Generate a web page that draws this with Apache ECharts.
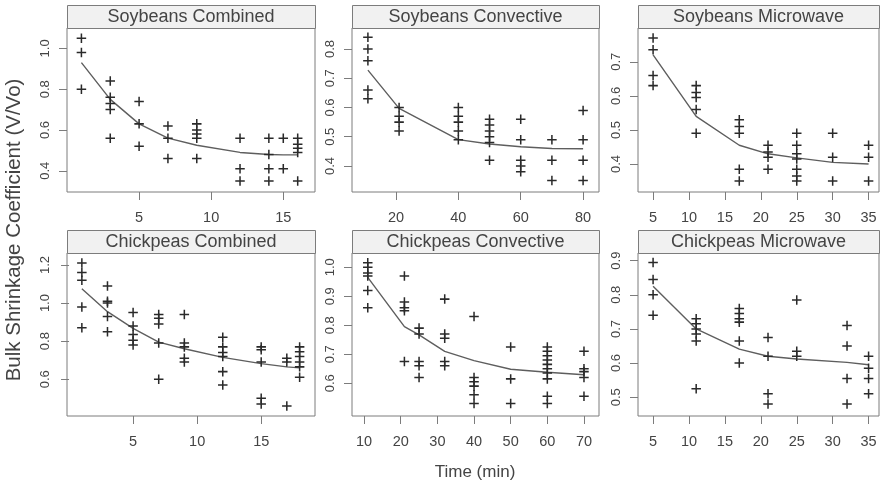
<!DOCTYPE html>
<html>
<head>
<meta charset="utf-8">
<script src="https://cdn.jsdelivr.net/npm/echarts@6/dist/echarts.min.js"></script>
<style>
  html, body { margin: 0; padding: 0; background: #fff; }
  #chart { width: 881px; height: 487px; }
</style>
</head>
<body>
<div id="chart"></div>
<script>
// Bulk shrinkage coefficient (V/Vo) against drying time, one panel per product and drying method.
// Each point list holds [time (min), coefficient]; each fit list holds the fitted curve at the measured times.

const panelTitles = [
  'Soybeans Combined', 'Soybeans Convective', 'Soybeans Microwave',
  'Chickpeas Combined', 'Chickpeas Convective', 'Chickpeas Microwave'
];

const soyCombinedPts = [
  [1, 1.05], [1, 0.98], [1, 0.80],
  [3, 0.84], [3, 0.76], [3, 0.73], [3, 0.70], [3, 0.56],
  [5, 0.74], [5, 0.63], [5, 0.52],
  [7, 0.62], [7, 0.56], [7, 0.46],
  [9, 0.63], [9, 0.60], [9, 0.58], [9, 0.56], [9, 0.46],
  [12, 0.56], [12, 0.41], [12, 0.35],
  [14, 0.56], [14, 0.48], [14, 0.41], [14, 0.35],
  [15, 0.56], [15, 0.41],
  [16, 0.56], [16, 0.53], [16, 0.51], [16, 0.49], [16, 0.35]
];
const soyCombinedFit = [[1, 0.93], [3, 0.75], [5, 0.63], [7, 0.56], [9, 0.525], [12, 0.49], [14, 0.48], [15, 0.478], [16, 0.478]];

const soyConvectivePts = [
  [11, 0.84], [11, 0.80], [11, 0.76], [11, 0.66], [11, 0.63],
  [21, 0.60], [21, 0.57], [21, 0.55], [21, 0.52],
  [40, 0.60], [40, 0.57], [40, 0.55], [40, 0.52], [40, 0.49],
  [50, 0.56], [50, 0.54], [50, 0.52], [50, 0.50], [50, 0.48], [50, 0.42],
  [60, 0.56], [60, 0.49], [60, 0.42], [60, 0.40], [60, 0.38],
  [70, 0.49], [70, 0.42], [70, 0.35],
  [80, 0.59], [80, 0.49], [80, 0.42], [80, 0.35]
];
const soyConvectiveFit = [[11, 0.728], [21, 0.597], [40, 0.49], [50, 0.475], [60, 0.466], [70, 0.46], [80, 0.459]];

const soyMicrowavePts = [
  [5, 0.77], [5, 0.735], [5, 0.66], [5, 0.63],
  [11, 0.63], [11, 0.61], [11, 0.595], [11, 0.56], [11, 0.49],
  [17, 0.53], [17, 0.51], [17, 0.49], [17, 0.385], [17, 0.35],
  [21, 0.455], [21, 0.435], [21, 0.42], [21, 0.385],
  [25, 0.49], [25, 0.455], [25, 0.43], [25, 0.415], [25, 0.385], [25, 0.365], [25, 0.35],
  [30, 0.49], [30, 0.42], [30, 0.35],
  [35, 0.455], [35, 0.42], [35, 0.35]
];
const soyMicrowaveFit = [[5, 0.72], [11, 0.54], [17, 0.455], [21, 0.43], [25, 0.418], [30, 0.405], [35, 0.40]];

const chickCombinedPts = [
  [1, 1.21], [1, 1.16], [1, 1.12], [1, 0.98], [1, 0.87],
  [3, 1.09], [3, 1.01], [3, 1.00], [3, 0.93], [3, 0.85],
  [5, 0.95], [5, 0.88], [5, 0.835], [5, 0.805], [5, 0.78],
  [7, 0.94], [7, 0.92], [7, 0.89], [7, 0.79], [7, 0.60],
  [9, 0.94], [9, 0.79], [9, 0.77], [9, 0.71], [9, 0.69],
  [12, 0.82], [12, 0.77], [12, 0.74], [12, 0.72], [12, 0.64], [12, 0.57],
  [15, 0.77], [15, 0.755], [15, 0.69], [15, 0.50], [15, 0.47],
  [17, 0.71], [17, 0.69], [17, 0.46],
  [18, 0.77], [18, 0.745], [18, 0.72], [18, 0.69], [18, 0.665], [18, 0.61]
];
const chickCombinedFit = [[1, 1.075], [3, 0.955], [5, 0.867], [7, 0.795], [9, 0.76], [12, 0.715], [15, 0.682], [17, 0.665], [18, 0.66]];

const chickConvectivePts = [
  [11, 1.015], [11, 1.0], [11, 0.98], [11, 0.97], [11, 0.92], [11, 0.86],
  [21, 0.97], [21, 0.88], [21, 0.86], [21, 0.85], [21, 0.675],
  [25, 0.79], [25, 0.77], [25, 0.675], [25, 0.66], [25, 0.62],
  [32, 0.89], [32, 0.77], [32, 0.755], [32, 0.675], [32, 0.66],
  [40, 0.83], [40, 0.62], [40, 0.605], [40, 0.59], [40, 0.56], [40, 0.53],
  [50, 0.725], [50, 0.615], [50, 0.53],
  [60, 0.725], [60, 0.71], [60, 0.695], [60, 0.68], [60, 0.665], [60, 0.65], [60, 0.635], [60, 0.615], [60, 0.555], [60, 0.53],
  [70, 0.71], [70, 0.65], [70, 0.64], [70, 0.62], [70, 0.555]
];
const chickConvectiveFit = [[11, 0.965], [21, 0.795], [25, 0.767], [32, 0.71], [40, 0.678], [50, 0.648], [60, 0.638], [70, 0.629]];

const chickMicrowavePts = [
  [5, 0.895], [5, 0.845], [5, 0.80], [5, 0.74],
  [11, 0.73], [11, 0.715], [11, 0.70], [11, 0.685], [11, 0.665], [11, 0.525],
  [17, 0.76], [17, 0.745], [17, 0.73], [17, 0.72], [17, 0.665], [17, 0.60],
  [21, 0.675], [21, 0.62], [21, 0.51], [21, 0.48],
  [25, 0.785], [25, 0.635], [25, 0.62],
  [32, 0.71], [32, 0.65], [32, 0.555], [32, 0.48],
  [35, 0.62], [35, 0.585], [35, 0.555], [35, 0.51]
];
const chickMicrowaveFit = [[5, 0.825], [11, 0.70], [17, 0.641], [21, 0.62], [25, 0.612], [32, 0.602], [35, 0.595]];

// Tick values per panel
const xTicks = [
  [5, 10, 15], [20, 40, 60, 80], [5, 10, 15, 20, 25, 30, 35],
  [5, 10, 15], [10, 20, 30, 40, 50, 60, 70], [5, 10, 15, 20, 25, 30, 35]
];
const yTicks = [
  [0.4, 0.6, 0.8, 1.0], [0.4, 0.5, 0.6, 0.7, 0.8], [0.4, 0.5, 0.6, 0.7],
  [0.6, 0.8, 1.0, 1.2], [0.6, 0.7, 0.8, 0.9, 1.0], [0.5, 0.6, 0.7, 0.8, 0.9]
];

const axisTitleX = 'Time (min)';
const axisTitleY = 'Bulk Shrinkage Coefficient (V/Vo)';

const pointSets = [soyCombinedPts, soyConvectivePts, soyMicrowavePts, chickCombinedPts, chickConvectivePts, chickMicrowavePts];
const fitSets = [soyCombinedFit, soyConvectiveFit, soyMicrowaveFit, chickCombinedFit, chickConvectiveFit, chickMicrowaveFit];

// Panel axis extents
const xRanges = [[0, 17.2], [5.9, 85.1], [2.9, 36.45], [-0.16, 19.2], [6.7, 74.1], [2.9, 36.45]];
const yRanges = [[0.296, 1.1], [0.311, 0.872], [0.318, 0.799], [0.407, 1.263], [0.487, 1.049], [0.445, 0.9225]];

// Layout
const colLeft = [67, 352, 638];
const colWidth = [248, 247, 241];
const rowTop = [28, 253];
const rowHeight = [164, 163];
const stripH = 23;
const FONT = 'Liberation Sans, Arial, Helvetica, sans-serif';
const TEXT = '#444';
const FRAME = '#7c7c7c';
const PLUS = 'path://M0,4.2H10V5.8H0Z M4.2,0H5.8V10H4.2Z';

const grids = [], xAxes = [], yAxes = [], series = [], graphics = [];

for (let i = 0; i < 6; i++) {
  const r = Math.floor(i / 3), c = i % 3;
  const left = colLeft[c], top = rowTop[r], w = colWidth[c], h = rowHeight[r];
  grids.push({
    left: left, top: top, width: w, height: h,
    show: true, borderColor: FRAME, borderWidth: 1, backgroundColor: 'transparent',
    containLabel: false, outerBoundsMode: 'none'
  });
  xAxes.push({
    type: 'value', gridIndex: i, min: xRanges[i][0], max: xRanges[i][1],
    axisLine: { show: false },
    splitLine: { show: false },
    axisTick: { show: true, length: 8, inside: false, customValues: xTicks[i], lineStyle: { color: FRAME, width: 1 } },
    axisLabel: { show: true, customValues: xTicks[i], margin: 18, color: TEXT, fontFamily: FONT, fontSize: 14.5,
      formatter: v => String(v) }
  });
  yAxes.push({
    type: 'value', gridIndex: i, min: yRanges[i][0], max: yRanges[i][1],
    axisLine: { show: false },
    splitLine: { show: false },
    axisTick: { show: true, length: 8, inside: false, customValues: yTicks[i], lineStyle: { color: FRAME, width: 1 } },
    axisLabel: { show: true, customValues: yTicks[i], rotate: 90, margin: 15, color: TEXT, fontFamily: FONT, fontSize: 13,
      formatter: v => Number(v).toFixed(1) }
  });
  series.push({
    type: 'line', xAxisIndex: i, yAxisIndex: i, data: fitSets[i],
    showSymbol: false, symbol: 'none', smooth: false, silent: true,
    lineStyle: { color: '#5e5e5e', width: 1.4 }, z: 2
  });
  series.push({
    type: 'scatter', xAxisIndex: i, yAxisIndex: i, data: pointSets[i],
    symbol: PLUS, symbolSize: 9.5, silent: true,
    itemStyle: { color: '#2a2a2a', opacity: 1 }, z: 3
  });
  // panel strip with its title
  graphics.push({
    type: 'rect', left: left, top: top - stripH, silent: true,
    shape: { width: w, height: stripH },
    style: { fill: '#f1f1f1', stroke: FRAME, lineWidth: 1 }
  });
  graphics.push({
    type: 'text', x: left + w / 2, y: top - stripH / 2 + 0.5, silent: true,
    style: { text: panelTitles[i], fill: TEXT, font: '18px ' + FONT, textAlign: 'center', textVerticalAlign: 'middle' }
  });
}

graphics.push({
  type: 'text', x: 475, y: 472, silent: true,
  style: { text: axisTitleX, fill: TEXT, font: '17px ' + FONT, textAlign: 'center', textVerticalAlign: 'middle' }
});
graphics.push({
  type: 'text', x: 14, y: 230, rotation: Math.PI / 2, silent: true,
  style: { text: axisTitleY, fill: TEXT, font: '20.5px ' + FONT, textAlign: 'center', textVerticalAlign: 'middle' }
});

const chart = echarts.init(document.getElementById('chart'), null, { renderer: 'canvas' });
chart.setOption({
  animation: false,
  backgroundColor: '#fff',
  grid: grids,
  xAxis: xAxes,
  yAxis: yAxes,
  series: series,
  graphic: graphics
});
</script>
</body>
</html>
